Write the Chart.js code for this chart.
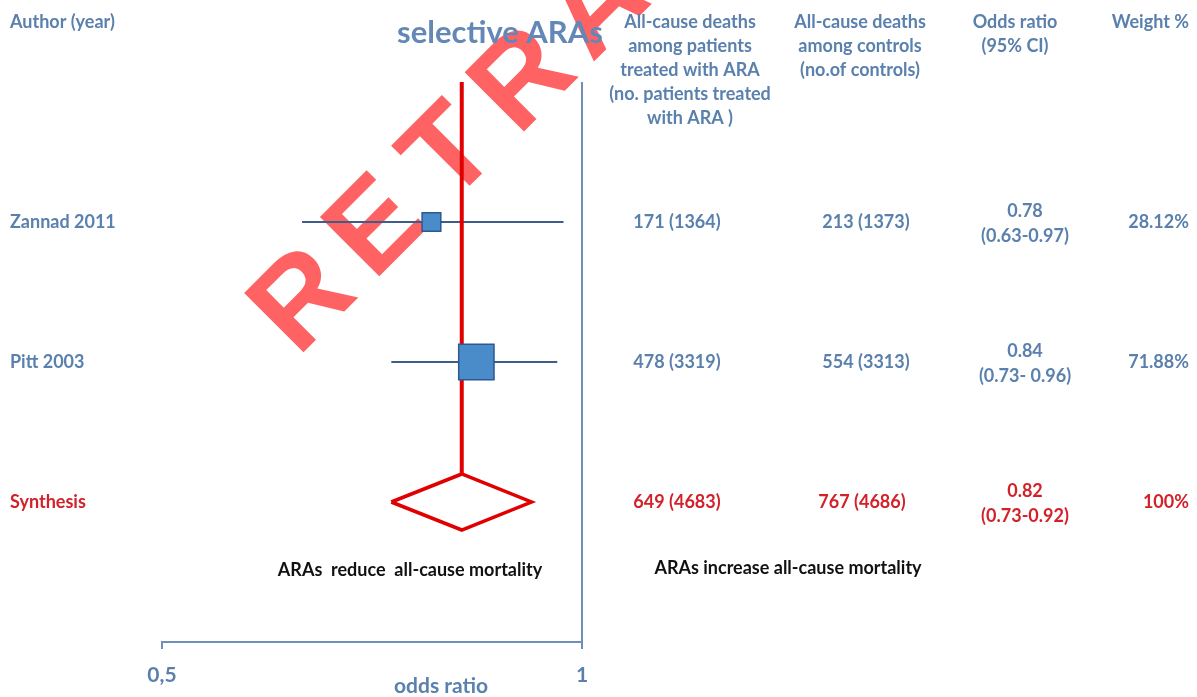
<!DOCTYPE html>
<html>
<head>
<meta charset="utf-8">
<style>
  html, body { margin: 0; padding: 0; background: #fff; }
  canvas { display: block; }
</style>
<script src="https://cdn.jsdelivr.net/npm/chart.js@4.4.0/dist/chart.umd.min.js"></script>
</head>
<body>
<canvas id="forest" width="1197" height="697"></canvas>
<script>
// studies
const studies = ['Zannad 2011', 'Pitt 2003'];
const oddsRatio = [0.78, 0.84];
const ciLow = [0.63, 0.73];
const ciHigh = [0.97, 0.96];
const ciLabels = ['(0.63-0.97)', '(0.73- 0.96)'];
const weights = [28.12, 71.88];
const deathsTreated = ['171 (1364)', '478 (3319)'];
const deathsControls = ['213 (1373)', '554 (3313)'];

// pooled estimate
const pooledLabel = 'Synthesis';
const pooledOR = 0.82;
const pooledLow = 0.73;
const pooledHigh = 0.92;
const pooledCI = '(0.73-0.92)';
const pooledTreated = '649 (4683)';
const pooledControls = '767 (4686)';
const pooledWeight = '100%';

// axis
const axisTicks = [0.5, 1];
const axisTickLabels = ['0,5', '1'];

const BLUE = '#5a80ad';
const RED = '#d3212a';
const FONT = 'Lato, "Open Sans", sans-serif';
const FS = 18;
const pooledRow = studies.length + 1;
const diamondHalf = 0.2;

function txt(ctx, s, x, y, color, size, align) {
  ctx.font = 'bold ' + size + 'px ' + FONT;
  ctx.fillStyle = color;
  ctx.textAlign = align || 'center';
  ctx.textBaseline = 'middle';
  ctx.fillText(s, x, y);
}

const watermark = {
  id: 'watermark',
  beforeDraw(chart) {
    const ctx = chart.ctx;
    ctx.save();
    ctx.fillStyle = '#fff';
    ctx.fillRect(0, 0, chart.width, chart.height);
    ctx.translate(305, 303);
    ctx.rotate(-Math.PI / 4);
    ctx.font = 'bold 122px "Liberation Sans", sans-serif';
    ctx.fillStyle = '#ff6262';
    ctx.textAlign = 'center';
    ctx.textBaseline = 'middle';
    'RETRACTED'.split('').forEach((ch, i) => ctx.fillText(ch, i * 104, 0));
    ctx.restore();
  }
};

const tableText = {
  id: 'tableText',
  afterDraw(chart) {
    const ctx = chart.ctx;
    const y = chart.scales.y;
    ctx.save();
    txt(ctx, 'selective ARAs', 500, 33, '#6388b8', 31);
    txt(ctx, 'Author (year)', 10, 22, BLUE, FS, 'left');
    ['All-cause deaths', 'among patients', 'treated with ARA', '(no. patients treated', 'with ARA )']
      .forEach((l, i) => txt(ctx, l, 690, 22 + i * 24, BLUE, FS));
    ['All-cause deaths', 'among controls', '(no.of controls)']
      .forEach((l, i) => txt(ctx, l, 860, 22 + i * 24, BLUE, FS));
    ['Odds ratio', '(95% CI)'].forEach((l, i) => txt(ctx, l, 1015, 22 + i * 24, BLUE, FS));
    txt(ctx, 'Weight %', 1189, 22, BLUE, FS, 'right');

    studies.forEach((s, i) => {
      const py = y.getPixelForValue(i + 1);
      txt(ctx, s, 10, py, BLUE, FS, 'left');
      txt(ctx, deathsTreated[i], 677, py, BLUE, FS);
      txt(ctx, deathsControls[i], 866, py, BLUE, FS);
      txt(ctx, oddsRatio[i].toFixed(2), 1025, py - 11, BLUE, FS);
      txt(ctx, ciLabels[i], 1025, py + 14, BLUE, FS);
      txt(ctx, weights[i].toFixed(2) + '%', 1189, py, BLUE, FS, 'right');
    });
    const py = y.getPixelForValue(pooledRow);
    txt(ctx, pooledLabel, 10, py, RED, FS, 'left');
    txt(ctx, pooledTreated, 677, py, RED, FS);
    txt(ctx, pooledControls, 862, py, RED, FS);
    txt(ctx, pooledOR.toFixed(2), 1025, py - 11, RED, FS);
    txt(ctx, pooledCI, 1025, py + 14, RED, FS);
    txt(ctx, pooledWeight, 1189, py, RED, FS, 'right');

    txt(ctx, 'ARAs  reduce  all-cause mortality', 410, 570, '#111', FS);
    txt(ctx, 'ARAs increase all-cause mortality', 788, 568, '#111', FS);
    txt(ctx, 'odds ratio', 441, 686, BLUE, 21);
    ctx.restore();
  }
};

const datasets = [
  {
    // study squares, sized by weight
    data: studies.map((s, i) => ({ x: oddsRatio[i], y: i + 1 })),
    pointStyle: 'rect',
    pointRadius: weights.map(w => (8 + 0.38 * w) / Math.SQRT2),
    backgroundColor: '#4a8bc9',
    borderColor: '#2b5a92',
    borderWidth: 1.5,
    showLine: false
  },
  {
    // line of the pooled estimate
    data: [{ x: pooledOR, y: 0 }, { x: pooledOR, y: pooledRow - diamondHalf }],
    borderColor: '#e00000',
    borderWidth: 4,
    pointRadius: 0,
    showLine: true
  },
  {
    data: [
      { x: pooledLow, y: pooledRow },
      { x: pooledOR, y: pooledRow - diamondHalf },
      { x: pooledHigh, y: pooledRow },
      { x: pooledOR, y: pooledRow + diamondHalf },
      { x: pooledLow, y: pooledRow }
    ],
    borderColor: '#e00000',
    borderWidth: 3.5,
    borderJoinStyle: 'miter',
    pointRadius: 0,
    showLine: true,
    fill: false
  }
].concat(studies.map((s, i) => ({
  data: [{ x: ciLow[i], y: i + 1 }, { x: ciHigh[i], y: i + 1 }],
  borderColor: '#3e5d8c',
  borderWidth: 2,
  pointRadius: 0,
  showLine: true
})));

new Chart(document.getElementById('forest'), {
  type: 'scatter',
  data: { datasets },
  options: {
    responsive: false,
    animation: false,
    events: [],
    layout: { padding: { left: 162, right: 615, top: 82, bottom: 0 } },
    plugins: { legend: { display: false }, tooltip: { enabled: false } },
    scales: {
      x: {
        type: 'logarithmic',
        min: 0.5,
        max: 1,
        afterBuildTicks: s => { s.ticks = axisTicks.map(v => ({ value: v })); },
        afterFit: s => { s.height = 55; },
        ticks: {
          callback: (v, i) => axisTickLabels[i],
          color: BLUE,
          font: { family: FONT, size: 21, weight: 'bold' },
          padding: 14,
          maxRotation: 0,
          autoSkip: false
        },
        grid: {
          color: c => (c.tick && c.tick.value === 1 ? '#6f8fb8' : 'rgba(0,0,0,0)'),
          lineWidth: 2,
          tickColor: '#6f8fb8',
          tickLength: 7
        },
        border: { display: true, color: '#6f8fb8', width: 2 }
      },
      y: {
        min: 0,
        max: 4,
        reverse: true,
        display: false
      }
    }
  },
  plugins: [watermark, tableText]
});
</script>
</body>
</html>
